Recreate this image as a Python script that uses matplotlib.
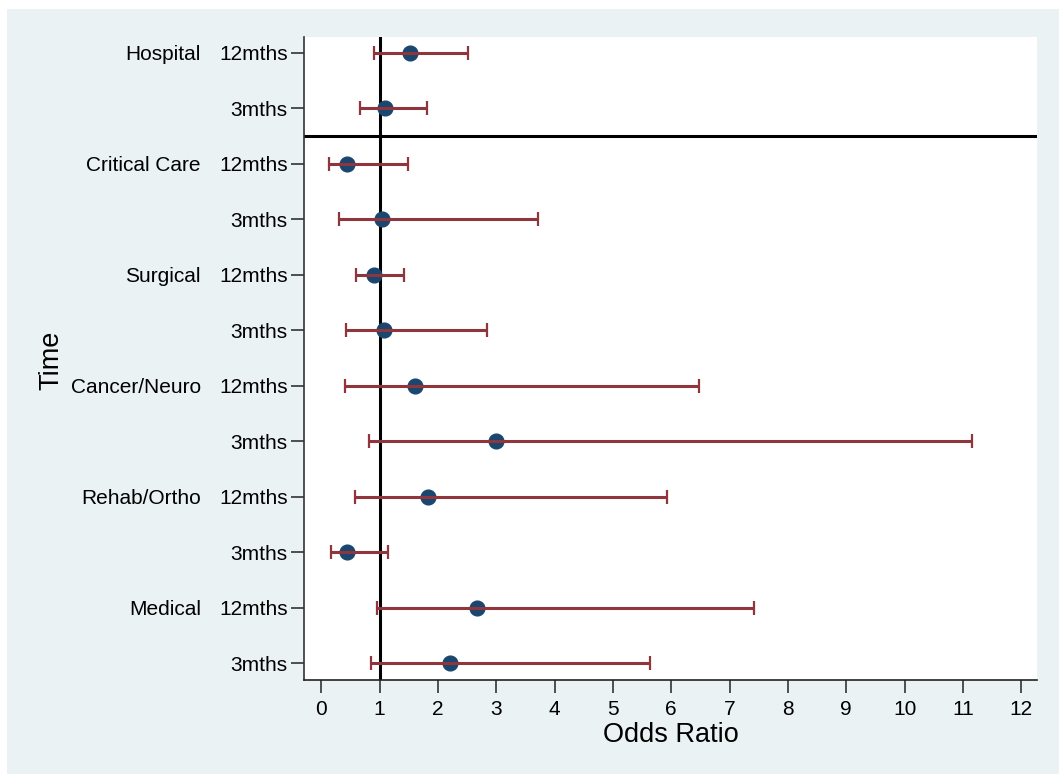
import matplotlib
matplotlib.use('Agg')
from matplotlib import pyplot as plt
from matplotlib.patches import Rectangle
import numpy as np

# rows listed bottom to top
groups = ['Medical', 'Rehab/Ortho', 'Cancer/Neuro', 'Surgical', 'Critical Care', 'Hospital']
times = ['3mths', '12mths'] * 6
odds = [2.20, 2.67, 0.45, 1.83, 3.00, 1.61, 1.08, 0.91, 1.05, 0.45, 1.10, 1.52]
lower = [0.86, 0.955, 0.17, 0.58, 0.82, 0.41, 0.43, 0.60, 0.31, 0.14, 0.67, 0.91]
upper = [5.63, 7.42, 1.15, 5.93, 11.15, 6.48, 2.85, 1.42, 3.72, 1.49, 1.81, 2.51]
xticks = np.arange(0, 13)

bg = '#EAF2F3'
navy = '#1A476F'
maroon = '#90353B'

plt.rcParams['font.family'] = ['Liberation Sans', 'DejaVu Sans']

fig = plt.figure(figsize=(10.59, 7.74), dpi=100)
fig.patch.set_facecolor('white')
fig.patches.append(Rectangle((7 / 1059, 0), 1, 765 / 774, transform=fig.transFigure,
                             facecolor=bg, edgecolor='none', zorder=-10))

ax = fig.add_axes([0.2873, 0.1214, 0.6922, 0.8312])
ax.set_facecolor('white')

rows = np.arange(1, len(odds) + 1)
odds = np.array(odds)
lower = np.array(lower)
upper = np.array(upper)

ax.plot(odds, rows, 'o', color=navy, markersize=10.6, zorder=3)
ax.errorbar(odds, rows, xerr=[odds - lower, upper - odds], fmt='none',
            ecolor=maroon, elinewidth=2.2, capsize=4.7, capthick=1.6, zorder=4)

# reference lines
ax.axvline(1, color='black', lw=2.2, zorder=2)
ax.axhline(10.5, color='black', lw=2.2, zorder=2)

ax.set_xlim(-0.291, 12.274)
ax.set_ylim(0.693, 12.29)

ax.set_xticks(xticks)
ax.set_xticklabels([str(t) for t in xticks])
ax.set_yticks(rows)
ax.set_yticklabels(times)
ax.tick_params(axis='both', labelsize=15, length=9.4, width=1.2, color='#333333')
ax.tick_params(axis='y', pad=2.5)
ax.tick_params(axis='x', pad=5)

for s in ['top', 'right']:
    ax.spines[s].set_visible(False)
ax.spines['left'].set_color('#333333')
ax.spines['left'].set_linewidth(1.2)
ax.spines['bottom'].set_color('#222222')
ax.spines['bottom'].set_linewidth(1.2)

# group names beside the 12mths rows
for i, g in enumerate(groups):
    ax.text(-0.141, 2 * i + 2, g, transform=ax.get_yaxis_transform(),
            ha='right', va='center_baseline', fontsize=15)

ax.set_xlabel('Odds Ratio', fontsize=19.5, labelpad=2)
fig.text(51 / 1059, 1 - 360 / 774, 'Time', rotation=90, ha='center', va='center',
         fontsize=19.5)

fig.savefig('out.png', dpi=100, facecolor=fig.get_facecolor())
